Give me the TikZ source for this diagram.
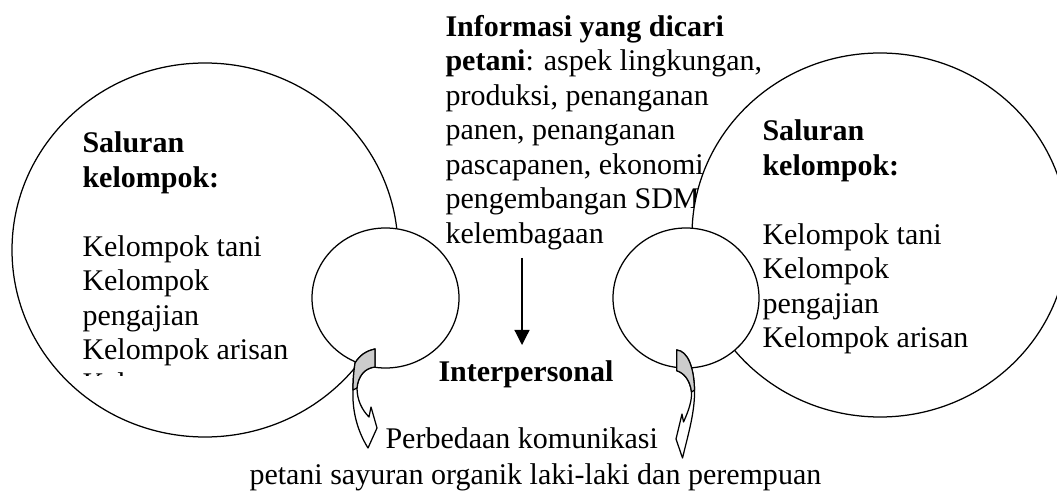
\documentclass[tikz,border=0pt]{standalone}
\usepackage{fontspec}
\setmainfont{Liberation Serif}
\usetikzlibrary{arrows.meta,shapes.geometric}

\begin{document}
\begin{tikzpicture}[x=0.4pt, y=-0.4pt,
    txt/.style={inner sep=0pt, align=left, font=\fontsize{12}{13.8}\selectfont},
    circ/.style={ellipse, draw, fill=white, line width=0.5pt, inner sep=0pt},
    arrow/.style={-{Triangle[width=6pt,length=6pt]}, line width=0.5pt},
    curl/.style={draw, fill=white, line width=0.5pt, line join=round},
    back/.style={draw, fill=black!20, line width=0.5pt, line join=round}]
    \useasboundingbox (0,0) rectangle (1057,491);

    % kelompok kiri
    \node[circ, minimum width=154.4pt, minimum height=149.6pt] (bigL) at (205,250) {};
    \node[txt, anchor=north west] (salL) at (82,131.5) {\textbf{Saluran}\\\textbf{kelompok:}\\[13.8pt]Kelompok tani\\Kelompok\\pengajian\\Kelompok arisan};
    \begin{scope}
        \clip (70,360) rectangle (300,375.5);
        \node[txt, anchor=base west] (cutL) at (82,393.5) {Keluarga};
    \end{scope}

    % informasi
    \node[txt, anchor=north west] (info) at (445,14.5) {\textbf{Informasi yang dicari}\\\textbf{petani}: aspek lingkungan,\\produksi, penanganan\\panen, penanganan\\pascapanen, ekonomi,\\pengembangan SDM,\\kelembagaan};

    % kelompok kanan
    \node[circ, minimum width=150.4pt, minimum height=145.6pt] (bigR) at (880,235) {};
    \node[txt, anchor=north west] (salR) at (762,119.5) {\textbf{Saluran}\\\textbf{kelompok:}\\[13.8pt]Kelompok tani\\Kelompok\\pengajian\\Kelompok arisan};

    \node[circ, minimum width=58.8pt, minimum height=56pt] (smallL) at (385.5,298) {};
    \node[circ, minimum width=58.4pt, minimum height=56pt] (smallR) at (686,298) {};

    \node[txt, anchor=base west] (inter) at (438,381) {\textbf{Interpersonal}};
    \coordinate (arrtop) at (522,258);
    \coordinate (arrtip) at (522,345);
    \draw[arrow] (arrtop) -- (arrtip);

    % panah lengkung
    \path[curl] (355,363) .. controls (360,355) and (366,351) .. (375,349) -- (375,367)
        .. controls (365,368) and (358,376) .. (357,388)
        .. controls (357,400) and (362,410) .. (369,417) -- (371,407) -- (377,428) -- (368,448)
        .. controls (358,432) and (352,412) .. (353,390)
        .. controls (353,378) and (354,370) .. (355,363) -- cycle;
    \path[back] (355,363) .. controls (360,355) and (366,351) .. (375,349) -- (375,367)
        .. controls (365,368) and (358,376) .. (357,388) -- (353,390)
        .. controls (353,378) and (354,370) .. (355,363) -- cycle;
    \path[curl] (676.7,350) .. controls (688,351) and (694,368) .. (694.5,390)
        .. controls (695,412) and (688,435) .. (682.5,458) -- (676,439) -- (682,414) -- (683.5,422)
        .. controls (689,410) and (692,400) .. (691.5,392)
        .. controls (690,380) and (684,373) .. (676.7,370.7) -- cycle;
    \path[back] (676.7,350) .. controls (688,351) and (694,368) .. (694.5,390) -- (691.5,392)
        .. controls (690,380) and (684,373) .. (676.7,370.7) -- cycle;

    \node[txt, anchor=base west] (diff) at (385,448) {Perbedaan komunikasi};
    \node[txt, anchor=base west] (diff2) at (249,484) {petani sayuran organik laki-laki dan perempuan};
\end{tikzpicture}
\end{document}
